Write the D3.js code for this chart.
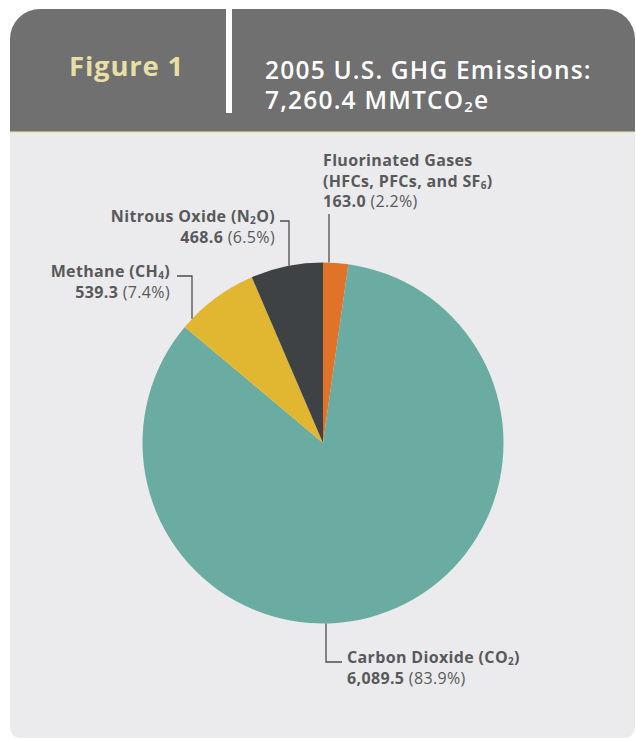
<!DOCTYPE html>
<html><head><meta charset="utf-8">
<script src="https://cdn.jsdelivr.net/npm/d3@7"></script>
<style>html,body{margin:0;padding:0;background:#fff;}svg{display:block;}</style>
</head><body>
<script>
const categories = ["Fluorinated Gases", "Carbon Dioxide", "Methane", "Nitrous Oxide"];
const values = [163.0, 6089.5, 539.3, 468.6];
const valueLabels = ["163.0", "6,089.5", "539.3", "468.6"];
const percentLabels = ["(2.2%)", "(83.9%)", "(7.4%)", "(6.5%)"];
const colors = ["#e07328", "#6aaca2", "#e1b631", "#3e4244"];

const W = 636, H = 740;
const svg = d3.select("body").append("svg").attr("width", W).attr("height", H);
const font = "'Open Sans', Lato, sans-serif";
const textCol = "#58595b";

// card
const x0 = 10, x1 = 635, y0 = 9, y1 = 738, rT = 30, rB = 12, hb = 132;
svg.append("path").attr("fill", "#ebebed")
  .attr("d", `M${x0},${hb} L${x1},${hb} L${x1},${y1-rB} Q${x1},${y1} ${x1-rB},${y1} L${x0+rB},${y1} Q${x0},${y1} ${x0},${y1-rB} Z`);
svg.append("path").attr("fill", "#6f706f")
  .attr("d", `M${x0},${hb} L${x0},${y0+rT} A${rT},${rT} 0 0 1 ${x0+rT},${y0} L${x1-rT},${y0} A${rT},${rT} 0 0 1 ${x1},${y0+rT} L${x1},${hb} Z`);
svg.append("rect").attr("x", x0).attr("y", hb-0.5).attr("width", x1-x0).attr("height", 1.5).attr("fill", "#ece7b8");
svg.append("rect").attr("x", 226).attr("y", y0).attr("width", 6).attr("height", 104).attr("fill", "#ffffff");

svg.append("text").attr("x", 69).attr("y", 76).attr("font-family", font).attr("font-weight", 700)
  .attr("font-size", 27.5).attr("letter-spacing", 0.8).attr("fill", "#e7dfa6").text("Figure 1");
const tt = svg.append("text").attr("font-family", font).attr("font-weight", 600).attr("font-size", 24.5)
  .attr("letter-spacing", 1.2).attr("fill", "#fff");
tt.append("tspan").attr("x", 265).attr("y", 79).text("2005 U.S. GHG Emissions:");
tt.append("tspan").attr("x", 265).attr("y", 109).text("7,260.4 MMTCO");
tt.append("tspan").attr("font-size", 15).attr("dy", 3).text("2");
tt.append("tspan").attr("dy", -3).text("e");

// pie
const cx = 323, cy = 443, R = 180.5;
const pie = d3.pie().sort(null).value(d => d)(values);
const arc = d3.arc().innerRadius(0).outerRadius(R);
const g = svg.append("g").attr("transform", `translate(${cx},${cy})`);
g.selectAll("path").data(pie).join("path").attr("d", arc).attr("fill", (d, i) => colors[i]);

const edgeY = (x, top) => cy + (top ? -1 : 1) * Math.sqrt(R * R - (x - cx) * (x - cx));

const lineCol = "#4d4e50";
function leader(pts) {
  svg.append("path").attr("fill", "none").attr("stroke", lineCol).attr("stroke-width", 1.3)
    .attr("d", d3.line()(pts));
}

function label(x, y, anchor, lines) {
  const t = svg.append("text").attr("font-family", font).attr("font-size", 16).attr("letter-spacing", 0.35)
    .attr("fill", textCol).attr("text-anchor", anchor);
  lines.forEach((parts, li) => {
    parts.forEach((p, pi) => {
      const ts = t.append("tspan").text(p.t).attr("font-weight", p.w || 700);
      if (pi === 0) ts.attr("x", x).attr("y", y + li * 20.7);
      if (p.sub) ts.attr("font-size", 10).attr("dy", 2);
      if (p.after) ts.attr("dy", -2);
    });
  });
}

label(323, 166, "start", [
  [{t: "Fluorinated Gases"}],
  [{t: "(HFCs, PFCs, and SF"}, {t: "6", sub: true}, {t: ")", after: true}],
  [{t: valueLabels[0] + " "}, {t: percentLabels[0], w: 400}]
]);
leader([[329, 214], [329, edgeY(329, true)]]);

label(275, 222, "end", [
  [{t: "Nitrous Oxide (N"}, {t: "2", sub: true}, {t: "O)", after: true}],
  [{t: valueLabels[3] + " "}, {t: percentLabels[3], w: 400}]
]);
leader([[280, 221], [289, 221], [289, edgeY(289, true)]]);

label(170, 277, "end", [
  [{t: "Methane (CH"}, {t: "4", sub: true}, {t: ")", after: true}],
  [{t: valueLabels[2] + " "}, {t: percentLabels[2], w: 400}]
]);
leader([[177, 276], [192, 276], [192, edgeY(192, true)]]);

label(347, 663, "start", [
  [{t: "Carbon Dioxide (CO"}, {t: "2", sub: true}, {t: ")", after: true}],
  [{t: valueLabels[1] + " "}, {t: percentLabels[1], w: 400}]
]);
leader([[326, edgeY(326, false)], [326, 662], [342, 662]]);
</script>
</body></html>
